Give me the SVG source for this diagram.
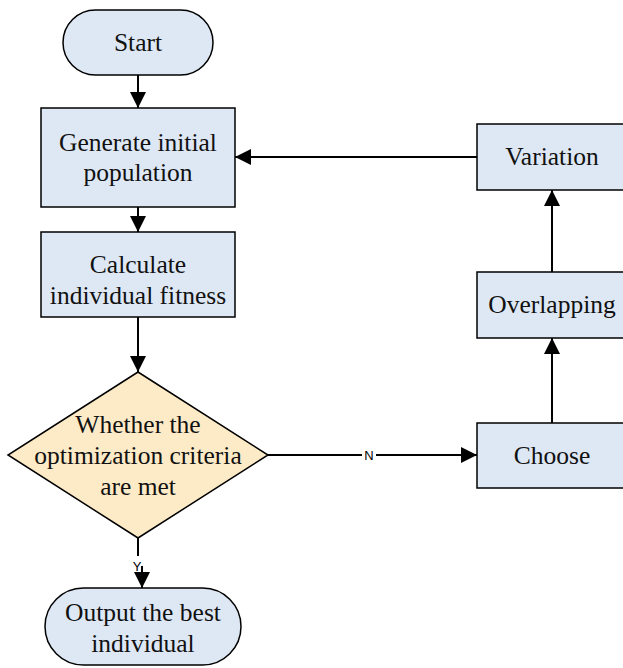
<svg xmlns="http://www.w3.org/2000/svg" width="623" height="668" viewBox="0 0 623 668">
<style>
.box{fill:#dee8f5;stroke:#000;stroke-width:1.5}
.dia{fill:#fdebc8;stroke:#000;stroke-width:1.5}
.t{font-family:'Liberation Serif','Times New Roman',serif;font-size:25.5px;fill:#111;text-anchor:middle}
.e{fill:none;stroke:#000;stroke-width:2}
.lbl{font-family:'Liberation Sans',Arial,sans-serif;font-size:13px;fill:#000;text-anchor:middle}
</style>
<defs>
<marker id="ah2" viewBox="0 0 16 16" refX="16" refY="8" markerWidth="16" markerHeight="16" markerUnits="userSpaceOnUse" orient="auto">
<path d="M0,0 L16,8 L0,16 z" fill="#000"/>
</marker>
</defs>
<rect width="623" height="668" fill="#fff"/>
<g id="connectors">
<line class="e" x1="138" y1="75" x2="138" y2="108" marker-end="url(#ah2)"/>
<line class="e" x1="138" y1="207" x2="138" y2="232" marker-end="url(#ah2)"/>
<line class="e" x1="138" y1="317" x2="138" y2="372" marker-end="url(#ah2)"/>
<line class="e" x1="267" y1="455" x2="477" y2="455" marker-end="url(#ah2)"/>
<rect x="362" y="447" width="14" height="16" fill="#fff"/>
<text class="lbl" x="369" y="460">N</text>
<line class="e" x1="552" y1="423" x2="552" y2="338" marker-end="url(#ah2)"/>
<line class="e" x1="552" y1="272" x2="552" y2="190" marker-end="url(#ah2)"/>
<line class="e" x1="477" y1="157" x2="235" y2="157" marker-end="url(#ah2)"/>
<line class="e" x1="138" y1="538" x2="138" y2="556"/>
<text class="lbl" x="137" y="571">Y</text>
<line class="e" x1="142" y1="566" x2="142" y2="588" marker-end="url(#ah2)"/>
</g>
<g id="start">
<rect class="box" x="63" y="10" width="150" height="65" rx="32.5"/>
<text class="t" x="138" y="51">Start</text>
</g>
<g id="generate">
<rect class="box" x="41" y="108" width="194" height="99"/>
<text class="t" x="138" y="151">Generate initial</text>
<text class="t" x="138" y="181">population</text>
</g>
<g id="calculate">
<rect class="box" x="41" y="232" width="194" height="85"/>
<text class="t" x="138" y="273">Calculate</text>
<text class="t" x="138" y="304">individual fitness</text>
</g>
<g id="decision">
<polygon class="dia" points="138,372 268,455 138,538 8,455"/>
<text class="t" x="138" y="433">Whether the</text>
<text class="t" x="138" y="464">optimization criteria</text>
<text class="t" x="138" y="495">are met</text>
</g>
<g id="output">
<rect class="box" x="45" y="588" width="196" height="77" rx="38.5"/>
<text class="t" x="143" y="621">Output the best</text>
<text class="t" x="143" y="652">individual</text>
</g>
<g id="choose">
<rect class="box" x="477" y="423" width="150" height="65"/>
<text class="t" x="552" y="464">Choose</text>
</g>
<g id="overlapping">
<rect class="box" x="477" y="272" width="150" height="66"/>
<text class="t" x="552" y="313">Overlapping</text>
</g>
<g id="variation">
<rect class="box" x="477" y="124" width="150" height="66"/>
<text class="t" x="552" y="165">Variation</text>
</g>
</svg>
